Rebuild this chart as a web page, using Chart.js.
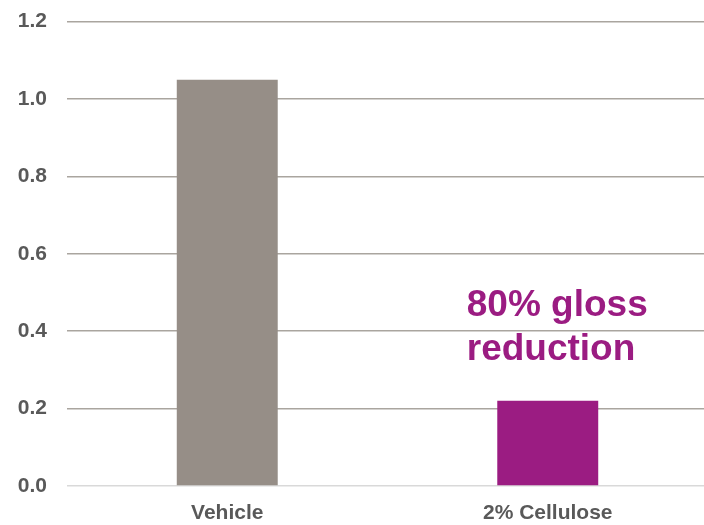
<!DOCTYPE html>
<html>
<head>
<meta charset="utf-8">
<script src="https://cdn.jsdelivr.net/npm/chart.js@4.4.1/dist/chart.umd.min.js"></script>
<style>
  html, body { margin: 0; padding: 0; background: #fff; overflow: hidden; }
  #wrap { width: 708px; height: 536px; margin-top: -11px; }
</style>
</head>
<body>
<div id="wrap"><canvas id="graphique"></canvas></div>
<script>
var categories = ['Vehicle', '2% Cellulose'];
var glossValues = [1.05, 0.22];
var barColors = ['#968e87', '#9b1c82'];
var noteLines = ['80% gloss', 'reduction'];

// draws the purple note above the cellulose bar
var notePlugin = {
  id: 'note',
  afterDatasetsDraw: function(chart) {
    var ctx = chart.ctx;
    var x = chart.scales.x.getPixelForValue(1) - 81;
    var y = chart.scales.y.getPixelForValue(glossValues[1]) - 85;
    ctx.save();
    ctx.fillStyle = '#9b1c82';
    ctx.font = 'bold 37px "Liberation Sans", Arial, sans-serif';
    ctx.textAlign = 'left';
    ctx.textBaseline = 'alphabetic';
    ctx.fillText(noteLines[0], x, y);
    ctx.fillText(noteLines[1], x, y + 44);
    ctx.restore();
  }
};

var ctx = document.getElementById('graphique');

var barGraph = new Chart(ctx, {
  type: 'bar',
  data: {
    labels: categories,
    datasets: [{
      data: glossValues,
      backgroundColor: barColors,
      borderWidth: 0,
      categoryPercentage: 1,
      barPercentage: 0.315
    }]
  },
  options: {
    responsive: true,
    maintainAspectRatio: false,
    animation: false,
    layout: { padding: 0 },
    plugins: {
      legend: { display: false },
      tooltip: { enabled: false }
    },
    scales: {
      x: {
        grid: { display: false },
        border: { display: false },
        ticks: {
          color: '#595959',
          padding: 7,
          font: { family: '"Liberation Sans", Arial, sans-serif', size: 21, weight: 'bold' }
        },
        afterFit: function(s) { s.height = 39; }
      },
      y: {
        min: 0,
        max: 1.2,
        border: { display: false },
        grid: {
          drawTicks: false,
          lineWidth: 1.5,
          color: function(c) { return c.index === 0 ? '#d9d9d9' : '#aaa59f'; }
        },
        ticks: {
          stepSize: 0.2,
          color: '#595959',
          padding: 20,
          font: { family: '"Liberation Sans", Arial, sans-serif', size: 21, weight: 'bold' },
          callback: function(v) { return v.toFixed(1); }
        },
        afterFit: function(s) { s.width = 67; }
      }
    }
  },
  plugins: [notePlugin]
});
</script>
</body>
</html>
